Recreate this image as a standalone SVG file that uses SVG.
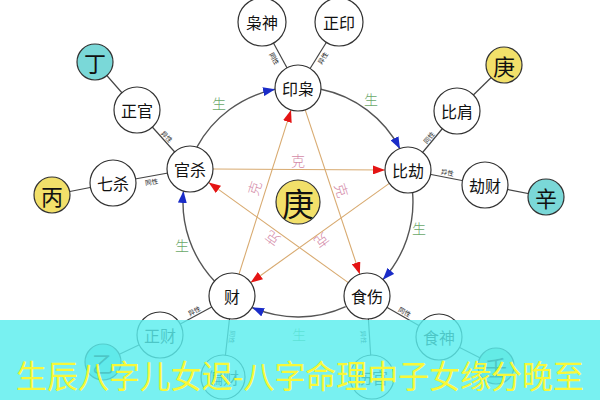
<svg xmlns="http://www.w3.org/2000/svg" width="600" height="400" viewBox="0 0 600 400">
<style>
.nd{fill:#fff;stroke:#333;stroke-width:1.2}
.yl{fill:#f2e06a;stroke:#333;stroke-width:1.2}
.tl{fill:#7ad8d8;stroke:#333;stroke-width:1.2}
.gr{fill:#8fdcc0;stroke:#333;stroke-width:1.2}
.t{font-family:"Noto Sans CJK SC","Noto Sans",sans-serif;font-size:16px;fill:#111;text-anchor:middle;dominant-baseline:central}
.big{font-size:22px}
.sm{font-family:"Noto Sans CJK SC",sans-serif;font-size:6.5px;fill:#222;text-anchor:middle;dominant-baseline:central}
.sh{font-family:"Noto Sans CJK SC",sans-serif;font-size:14px;fill:#6aa86a;text-anchor:middle;dominant-baseline:central;font-weight:300}
.ke{font-family:"Noto Sans CJK SC",sans-serif;font-size:14px;fill:#d48aa8;text-anchor:middle;dominant-baseline:central;font-weight:300}
.arc{fill:none;stroke:#555;stroke-width:1.4}
.star{fill:none;stroke:#d8aa70;stroke-width:1.1}
.sp{stroke:#444;stroke-width:1.2}
</style>
<defs>
<marker id="ab" viewBox="0 0 12 9" refX="12" refY="4.5" markerWidth="12" markerHeight="9" markerUnits="userSpaceOnUse" orient="auto"><path d="M0,0 L12,4.5 L0,9 z" fill="#1a2cc8"/></marker>
<marker id="ar" viewBox="0 0 12 9" refX="12" refY="4.5" markerWidth="12" markerHeight="9" markerUnits="userSpaceOnUse" orient="auto"><path d="M0,0 L12,4.5 L0,9 z" fill="#e41414"/></marker>
</defs>
<rect width="600" height="400" fill="#fff"/>
<g id="connectors">
<path class="arc" d="M196.9,147.1 A115,115 0 0 1 275.1,89.3" marker-end="url(#ab)"/>
<path class="arc" d="M320.9,89.3 A115,115 0 0 1 400,148.9" marker-end="url(#ab)"/>
<path class="arc" d="M412.6,193 A115,115 0 0 1 382.8,279.7" marker-end="url(#ab)"/>
<path class="arc" d="M345.7,306.6 A115,115 0 0 1 252.1,307.5" marker-end="url(#ab)"/>
<path class="arc" d="M214.6,281.2 A115,115 0 0 1 183.5,191" marker-end="url(#ab)"/>
<line class="star" x1="213" y1="169" x2="385" y2="170" marker-end="url(#ar)"/>
<line class="star" x1="305.2" y1="109.8" x2="359.8" y2="274.2" marker-end="url(#ar)"/>
<line class="star" x1="389.3" y1="183.4" x2="250.7" y2="282.6" marker-end="url(#ar)"/>
<line class="star" x1="348.3" y1="282.6" x2="208.7" y2="182.4" marker-end="url(#ar)"/>
<line class="star" x1="239" y1="274.1" x2="291" y2="110.1" marker-end="url(#ar)"/>
<line class="sp" x1="298" y1="88" x2="262" y2="22"/>
<line class="sp" x1="298" y1="88" x2="339" y2="22"/>
<line class="sp" x1="408" y1="170" x2="457" y2="111"/>
<line class="sp" x1="408" y1="170" x2="485" y2="185"/>
<line class="sp" x1="457" y1="111" x2="504" y2="65"/>
<line class="sp" x1="485" y1="185" x2="546" y2="197"/>
<line class="sp" x1="190" y1="169" x2="137" y2="110"/>
<line class="sp" x1="190" y1="169" x2="113" y2="183"/>
<line class="sp" x1="137" y1="110" x2="95" y2="62"/>
<line class="sp" x1="113" y1="183" x2="52" y2="195"/>
<line class="sp" x1="232" y1="296" x2="160" y2="335"/>
<line class="sp" x1="232" y1="296" x2="223" y2="377"/>
<line class="sp" x1="160" y1="335" x2="103" y2="362"/>
<line class="sp" x1="367" y1="296" x2="439" y2="337"/>
<line class="sp" x1="367" y1="296" x2="372" y2="377"/>
<line class="sp" x1="439" y1="337" x2="496" y2="366"/>
<text class="sm" transform="translate(274.7,58.4) rotate(61)">同性</text>
<text class="sm" transform="translate(322.4,58) rotate(-58)">异性</text>
<text class="sm" transform="translate(428.7,137.3) rotate(-50)">同性</text>
<text class="sm" transform="translate(447.5,172) rotate(11)">异性</text>
<text class="sm" transform="translate(167.2,136.2) rotate(48)">异性</text>
<text class="sm" transform="translate(151.5,181.5) rotate(-10)">同性</text>
<text class="sm" transform="translate(194,310.6) rotate(-28)">异性</text>
<text class="sm" transform="translate(232.5,337) rotate(96)">同性</text>
<text class="sm" transform="translate(405,311.7) rotate(30)">同性</text>
<text class="sm" transform="translate(364,337) rotate(86)">异性</text>
<text class="sh" x="219" y="103">生</text>
<text class="sh" x="371" y="99">生</text>
<text class="sh" x="419" y="228">生</text>
<text class="sh" x="182" y="245">生</text>
<text class="sh" x="299" y="334">生</text>
<text class="ke" x="298" y="160">克</text>
<text class="ke" transform="translate(254,188) rotate(-72)">克</text>
<text class="ke" transform="translate(342,190) rotate(72)">克</text>
<text class="ke" transform="translate(272,239) rotate(-144)">克</text>
<text class="ke" transform="translate(322,241) rotate(144)">克</text>
</g>
<g id="n-center"><circle class="yl" cx="298" cy="202" r="22"/><text class="t" x="298" y="202" style="font-size:32px">庚</text></g>
<g id="n-yinxiao"><circle class="nd" cx="298" cy="88" r="23"/><text class="t" x="298" y="88">印枭</text></g>
<g id="n-xiaoshen"><circle class="nd" cx="262" cy="22" r="24"/><text class="t" x="262" y="22">枭神</text></g>
<g id="n-zhengyin"><circle class="nd" cx="339" cy="22" r="24"/><text class="t" x="339" y="22">正印</text></g>
<g id="n-bijie"><circle class="nd" cx="408" cy="170" r="23"/><text class="t" x="408" y="170">比劫</text></g>
<g id="n-bijian"><circle class="nd" cx="457" cy="111" r="23"/><text class="t" x="457" y="111">比肩</text></g>
<g id="n-jiecai"><circle class="nd" cx="485" cy="185" r="23"/><text class="t" x="485" y="185">劫财</text></g>
<g id="n-geng"><circle class="yl" cx="504" cy="65" r="18"/><text class="t big" x="504" y="65">庚</text></g>
<g id="n-xin"><circle class="tl" cx="546" cy="197" r="18"/><text class="t big" x="546" y="197">辛</text></g>
<g id="n-guansha"><circle class="nd" cx="190" cy="169" r="23"/><text class="t" x="190" y="169">官杀</text></g>
<g id="n-zhengguan"><circle class="nd" cx="137" cy="110" r="23"/><text class="t" x="137" y="110">正官</text></g>
<g id="n-qisha"><circle class="nd" cx="113" cy="183" r="23"/><text class="t" x="113" y="183">七杀</text></g>
<g id="n-ding"><circle class="tl" cx="95" cy="62" r="18"/><text class="t big" x="95" y="62">丁</text></g>
<g id="n-bing"><circle class="yl" cx="52" cy="195" r="18"/><text class="t big" x="52" y="195">丙</text></g>
<g id="n-cai"><circle class="nd" cx="232" cy="296" r="23"/><text class="t" x="232" y="296">财</text></g>
<g id="n-shishang"><circle class="nd" cx="367" cy="296" r="23"/><text class="t" x="367" y="296">食伤</text></g>
<g id="n-zhengcai"><circle class="nd" cx="160" cy="335" r="23"/><text class="t" x="160" y="335">正财</text></g>
<g id="n-piancai"><circle class="nd" cx="223" cy="377" r="22"/><text class="t" x="223" y="377">偏财</text></g>
<g id="n-yi"><circle class="tl" cx="103" cy="362" r="18"/><text class="t big" x="103" y="362">乙</text></g>
<g id="n-shishen"><circle class="nd" cx="439" cy="337" r="23"/><text class="t" x="439" y="337">食神</text></g>
<g id="n-shangguan"><circle class="nd" cx="372" cy="377" r="22"/><text class="t" x="372" y="377">伤官</text></g>
<g id="n-ren"><circle class="gr" cx="496" cy="366" r="18"/><text class="t big" x="496" y="366">壬</text></g>
<g id="banner">
<rect x="0" y="320" width="600" height="80" fill="#5aeeee" opacity="0.82"/>
<text x="16" y="388" textLength="568" lengthAdjust="spacingAndGlyphs" style="font-family:'Noto Sans CJK SC',sans-serif;font-size:32px;fill:#f8f838">生辰八字儿女迟-八字命理中子女缘分晚至</text>
</g>
</svg>
